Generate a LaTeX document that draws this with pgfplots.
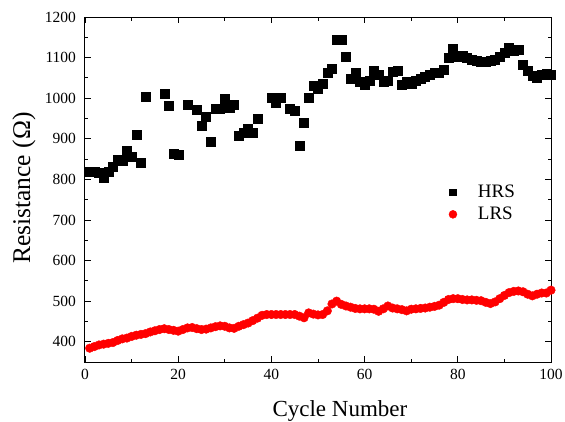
\documentclass[border=0pt]{standalone}
\usepackage{pgfplots}
\pgfplotsset{compat=1.18}
\usepackage{fontspec}
\setmainfont{Liberation Serif}

\pgfplotsset{
  widelegimg/.style={legend image code/.code={\path (0cm,0cm) (1.1cm,0cm); \draw[##1, mark size=#1] plot coordinates {(0.3cm,0cm)};}},
}

\pgfplotstableread{
x y
1 820
2 818
3 817
4 804
5 818
6 831
7 849
8 845
9 871
10 857
11 911
12 842
13 1004
17 1010
18 981
19 863
20 861
22 985
24 971
25 933
26 955
27 894
28 974
29 974
30 999
31 977
32 984
33 908
34 915
35 926
36 915
37 949
40 1000
41 988
42 1000
44 975
45 970
46 883
47 940
48 1000
49 1030
50 1023
51 1035
52 1064
53 1072
54 1145
55 1145
56 1101
57 1049
58 1062
59 1041
60 1033
61 1044
62 1068
63 1057
64 1041
65 1044
66 1066
67 1068
68 1033
69 1041
70 1035
71 1044
72 1047
73 1053
74 1058
75 1062
76 1064
77 1070
78 1099
79 1121
80 1103
81 1105
82 1100
83 1096
84 1093
85 1090
86 1090
87 1093
88 1096
89 1102
90 1112
91 1125
92 1117
93 1119
94 1082
95 1068
96 1055
97 1050
98 1057
99 1060
100 1057
}\hrs

\pgfplotstableread{
x y
1 384
2 388
3 392
4 394
5 396
6 398
7 403
8 407
9 409
10 413
11 416
12 418
13 420
14 424
15 427
16 430
17 432
18 430
19 428
20 426
21 430
22 434
23 435
24 432
25 430
26 431
27 434
28 437
29 439
30 438
31 434
32 433
33 438
34 442
35 446
36 452
37 458
38 465
39 467
40 467
41 467
42 467
43 467
44 467
45 467
46 463
47 459
48 471
49 468
50 466
51 467
52 476
53 493
54 500
55 492
56 488
57 485
58 482
59 481
60 481
61 481
62 480
63 475
64 481
65 488
66 483
67 481
68 479
69 476
70 480
71 481
72 482
73 483
74 485
75 487
76 490
77 497
78 504
79 506
80 506
81 504
82 503
83 503
84 502
85 501
86 497
87 494
88 498
89 506
90 514
91 521
92 524
93 525
94 523
95 517
96 513
97 517
98 520
99 520
100 527
}\lrs

\begin{document}
\begin{tikzpicture}
\useasboundingbox (-85pt,-59pt) rectangle (480pt,362pt);
\begin{axis}[
  at={(0,0)}, anchor=south west,
  scale only axis, width=466pt, height=345pt,
  xmin=0, xmax=100, ymin=350, ymax=1200,
  xtick={0,20,...,100}, minor x tick num=1,
  ytick={400,500,...,1200}, minor y tick num=1,
  tick align=inside,
  major tick length=6pt, minor tick length=3.5pt,
  axis line style={line width=1pt},
  every tick/.style={black, line width=0.8pt},
  /pgf/number format/assume math mode=true,
  /pgf/number format/1000 sep={},
  tick label style={font=\fontsize{15.5}{18}\selectfont},
  yticklabel style={xshift=-5.5pt},
  xticklabel style={yshift=-4pt},
  xlabel={Cycle Number},
  ylabel={Resistance (Ω)},
  xlabel style={font=\fontsize{23}{27}\selectfont, at={(axis description cs:0.547,-0.159)}, anchor=base},
  ylabel style={font=\fontsize{25.5}{30}\selectfont, at={(axis description cs:-0.118,0.504)}, anchor=base},
  legend style={draw=none, fill=none, at={(axis description cs:0.764,0.46)}, anchor=west,
    font=\fontsize{19}{22}\selectfont, row sep=4pt, cells={anchor=west}},
]
\addplot[only marks, mark=square*, mark size=4.5pt, draw=black, fill=black, widelegimg=3.4pt]
  table[x=x,y=y] {\hrs};
\addlegendentry{HRS}
\addplot[only marks, mark=*, mark size=4.3pt, draw=red, fill=red, widelegimg=4pt]
  table[x=x,y=y] {\lrs};
\addlegendentry{LRS}
\end{axis}
\end{tikzpicture}
\end{document}
